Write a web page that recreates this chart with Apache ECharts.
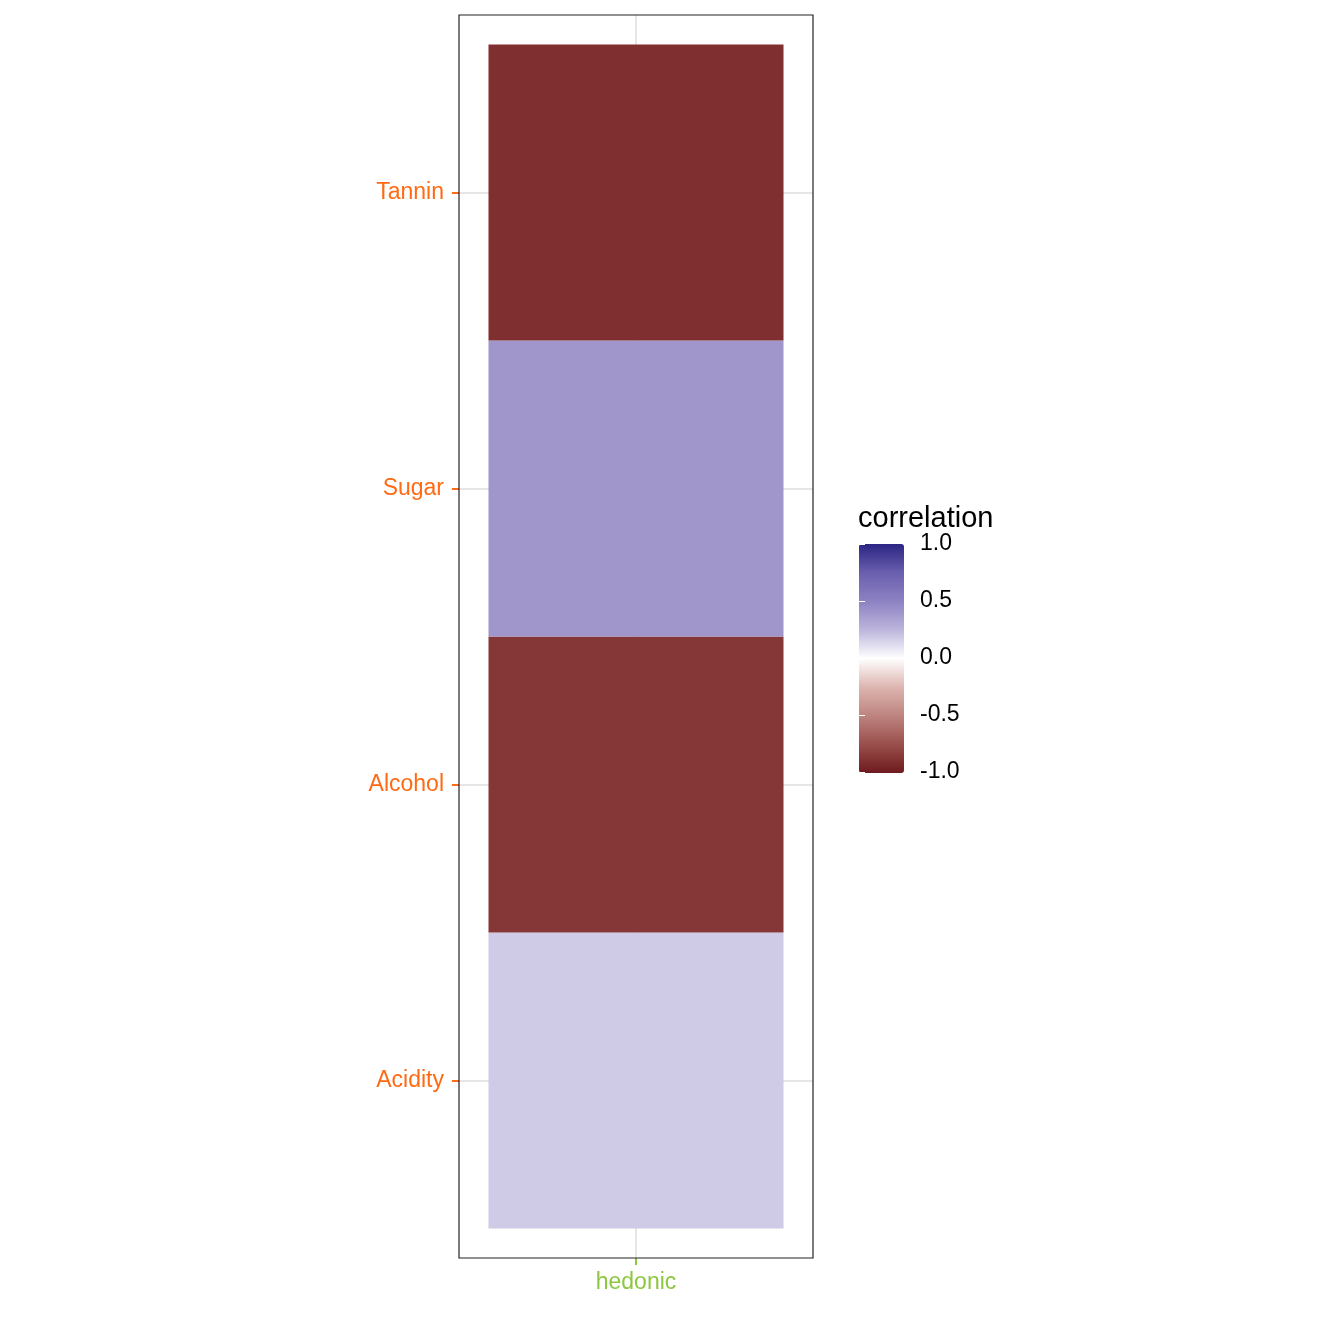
<!DOCTYPE html>
<html>
<head>
<meta charset="utf-8">
<script src="https://cdn.jsdelivr.net/npm/echarts@6/dist/echarts.min.js"></script>
<style>html,body{margin:0;padding:0;background:#fff;}#c{width:1344px;height:1344px;}</style>
</head>
<body>
<div id="c"></div>
<script>
const rowLabels = ['Acidity', 'Alcohol', 'Sugar', 'Tannin'];
const colLabels = ['hedonic'];
const correlations = [0.18, -0.87, 0.40, -0.90];
const legendTicks = [-1, -0.5, 0, 0.5, 1];

const cells = correlations.map((v, i) => [1, i + 1, v]);
const FONT = '"Liberation Sans", Arial, sans-serif';

const chart = echarts.init(document.getElementById('c'), null, {renderer: 'canvas'});
chart.setOption({
  backgroundColor: '#ffffff',
  animation: false,
  title: {
    text: 'correlation', left: 853, top: 499,
    textStyle: {fontFamily: FONT, fontSize: 29, fontWeight: 'normal', color: '#000'}
  },
  grid: [
    {left: 459, top: 15, width: 354, height: 1243, show: true, borderColor: '#222222', borderWidth: 1.2, backgroundColor: 'transparent', z: 3},
    {left: 859, top: 544, width: 45, height: 228, show: false}
  ],
  xAxis: [
    {
      type: 'value', gridIndex: 0, min: 0.4, max: 1.6,
      axisLine: {show: false},
      axisTick: {show: true, customValues: [1], length: 7, lineStyle: {color: '#8DC63F', width: 2}},
      axisLabel: {customValues: [1], margin: 13, color: '#8DC63F', fontFamily: FONT, fontSize: 23,
        formatter: v => colLabels[Math.round(v) - 1] || ''},
      splitLine: {show: true, customValues: [1], lineStyle: {color: '#E6E6E6', width: 2}}
    },
    {type: 'value', gridIndex: 1, min: 0, max: 1, show: false}
  ],
  yAxis: [
    {
      type: 'value', gridIndex: 0, min: 0.4, max: 4.6,
      axisLine: {show: false},
      axisTick: {show: true, customValues: [1, 2, 3, 4], length: 7, lineStyle: {color: '#FF6A13', width: 2}},
      axisLabel: {customValues: [1, 2, 3, 4], margin: 15, color: '#FF6A13', fontFamily: FONT, fontSize: 23,
        formatter: v => rowLabels[Math.round(v) - 1] || ''},
      splitLine: {show: true, customValues: [1, 2, 3, 4], lineStyle: {color: '#E6E6E6', width: 2}}
    },
    {
      type: 'value', gridIndex: 1, min: -1, max: 1, interval: 0.5, position: 'right', z: 10,
      axisLine: {show: false},
      axisTick: {show: true, inside: true, length: 6, lineStyle: {color: '#ffffff', width: 1}},
      axisLabel: {margin: 16, color: '#000', fontFamily: FONT, fontSize: 23, formatter: v => v.toFixed(1)},
      splitLine: {show: false}
    },
    {
      type: 'value', gridIndex: 1, min: -1, max: 1, interval: 0.5, position: 'left', z: 10,
      axisLine: {show: false},
      axisTick: {show: true, inside: true, length: 6, lineStyle: {color: '#ffffff', width: 1}},
      axisLabel: {show: false},
      splitLine: {show: false}
    }
  ],
  visualMap: {
    type: 'continuous', min: -1, max: 1, dimension: 2, seriesIndex: 0,
    calculable: false, text: null, showLabel: false,
    left: 844, top: 529, itemWidth: 45, itemHeight: 229, z: 1,
    inRange: {color: ['#6E1A1E', '#9A4F4C', '#BE8480', '#DDB5B0', '#FFFFFF', '#BDB5DC', '#8D82C2', '#6A5FAE', '#2B2584']}
  },
  series: [{
    type: 'custom', xAxisIndex: 0, yAxisIndex: 0, data: cells, z: 2,
    renderItem: function (params, api) {
      const p0 = api.coord([api.value(0) - 0.5, api.value(1) + 0.5]);
      const p1 = api.coord([api.value(0) + 0.5, api.value(1) - 0.5]);
      return {type: 'rect', shape: {x: p0[0], y: p0[1], width: p1[0] - p0[0], height: p1[1] - p0[1]},
        style: {fill: api.visual('color')}};
    }
  }]
});
</script>
</body>
</html>
